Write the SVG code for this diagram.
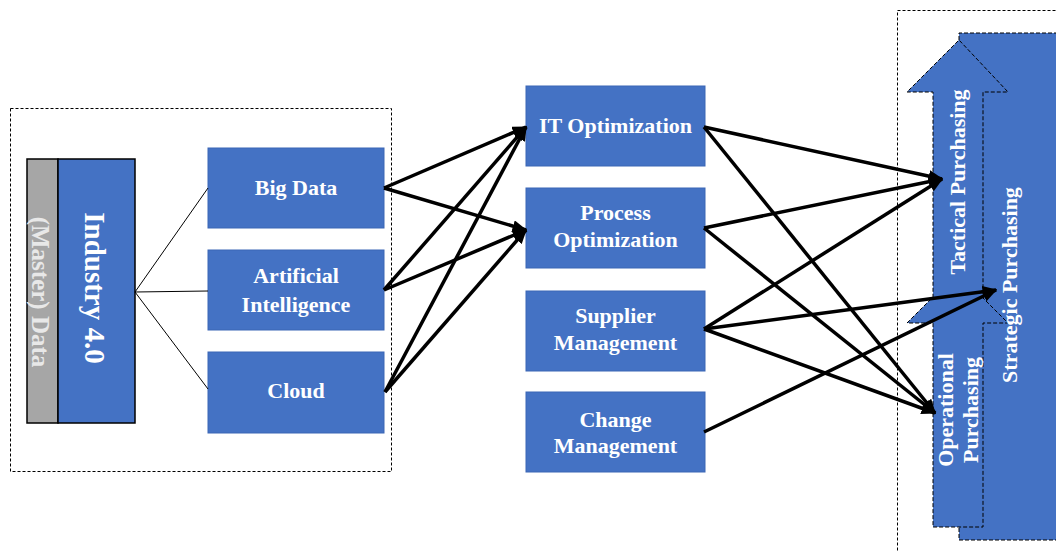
<svg xmlns="http://www.w3.org/2000/svg" width="1056" height="551" viewBox="0 0 1056 551">
<style>
.box{fill:#4472C4;stroke:#3b66b5;stroke-width:1}
.t{font-family:"Liberation Serif","Times New Roman",serif;font-weight:bold;font-size:22px;fill:#ffffff;text-anchor:middle}
.thin{stroke:#000;stroke-width:1;fill:none}
.thick{stroke:#000;stroke-width:3.5;fill:none;marker-end:url(#ah)}
.frame{fill:none;stroke:#000;stroke-width:1;stroke-dasharray:3 2}
.dash{fill:none;stroke:#000;stroke-width:1;stroke-dasharray:4 2}
</style>
<defs>
<marker id="ah" viewBox="0 0 10 8" refX="9" refY="4" markerWidth="15" markerHeight="12" markerUnits="userSpaceOnUse" orient="auto">
<path d="M0,0 L10,4 L0,8 z" fill="#000"/>
</marker>
</defs>
<rect width="1056" height="551" fill="#fff"/>

<!-- frames -->
<rect class="frame" x="10.5" y="108.5" width="381" height="363"/>
<rect class="frame" x="897.5" y="10.5" width="170" height="560"/>

<!-- Industry 4.0 -->
<g id="master-data">
<rect x="27" y="159" width="31" height="264" fill="#A6A6A6" stroke="#000" stroke-width="1.5"/>
<text transform="translate(32,292) rotate(90)" class="t" style="font-size:25px;fill:#e8e8e8">(Master) Data</text>
</g>
<g id="industry">
<rect x="58" y="159" width="77" height="264" fill="#4472C4" stroke="#000" stroke-width="1.5"/>
<text transform="translate(85,288) rotate(90)" class="t" style="font-size:29px">Industry 4.0</text>
</g>

<g id="big-data"><rect class="box" x="208" y="148" width="176" height="80"/><text class="t" x="296" y="195">Big Data</text></g>
<g id="ai"><rect class="box" x="208" y="250" width="176" height="80"/><text class="t" x="296" y="283">Artificial</text><text class="t" x="296" y="312">Intelligence</text></g>
<g id="cloud"><rect class="box" x="208" y="352" width="176" height="81"/><text class="t" x="296" y="398">Cloud</text></g>

<g id="it-opt"><rect class="box" x="526" y="86" width="179" height="80"/><text class="t" x="615.5" y="133">IT Optimization</text></g>
<g id="process-opt"><rect class="box" x="526" y="188" width="179" height="80"/><text class="t" x="615.5" y="220">Process</text><text class="t" x="615.5" y="247">Optimization</text></g>
<g id="supplier-mgmt"><rect class="box" x="526" y="291" width="179" height="80"/><text class="t" x="615.5" y="323">Supplier</text><text class="t" x="615.5" y="350">Management</text></g>
<g id="change-mgmt"><rect class="box" x="526" y="392" width="179" height="80"/><text class="t" x="615.5" y="427">Change</text><text class="t" x="615.5" y="453">Management</text></g>

<!-- purchasing arrows -->
<g id="strategic">
<rect x="959" y="33" width="110" height="507" fill="#4472C4"/>
<path class="dash" d="M1070,33 L959,33 L959,540 L1070,540"/>
</g>
<g id="operational-tactical">
<polygon points="958,272 1008,323 983,323 983,527 933,527 933,323 907,323" fill="#4472C4"/>
<polygon points="959,40 1008,92 983,92 983,300 933,300 933,92 907,92" fill="#4472C4"/>
<path class="dash" d="M907,323 L933,297 L933,92 L907,92 L959,40 L1008,92 L983,92 L983,298 L1008,323 L983,323 L983,527 L933,527 L933,323 Z"/>
</g>
<g id="labels-right">
<text class="t" transform="translate(965,182) rotate(-90)">Tactical Purchasing</text>
<text class="t" transform="translate(1017,285) rotate(-90)">Strategic Purchasing</text>
<text class="t" transform="translate(953,410) rotate(-90)">Operational</text>
<text class="t" transform="translate(978,410) rotate(-90)">Purchasing</text>
</g>

<g id="connectors">
<line class="thin" x1="135" y1="292" x2="208" y2="188"/>
<line class="thin" x1="135" y1="292" x2="208" y2="291"/>
<line class="thin" x1="135" y1="292" x2="208" y2="389"/>

<line class="thick" x1="384" y1="188" x2="526" y2="127"/>
<line class="thick" x1="384" y1="188" x2="526" y2="230"/>
<line class="thick" x1="384" y1="290" x2="526" y2="127"/>
<line class="thick" x1="384" y1="290" x2="526" y2="230"/>
<line class="thick" x1="385" y1="392" x2="526" y2="127"/>
<line class="thick" x1="385" y1="392" x2="526" y2="230"/>

<line class="thick" x1="704" y1="127" x2="942" y2="179"/>
<line class="thick" x1="704" y1="127" x2="935" y2="413"/>
<line class="thick" x1="704" y1="228" x2="942" y2="179"/>
<line class="thick" x1="704" y1="228" x2="935" y2="413"/>
<line class="thick" x1="704" y1="329" x2="942" y2="179"/>
<line class="thick" x1="704" y1="329" x2="996" y2="290"/>
<line class="thick" x1="704" y1="329" x2="935" y2="413"/>
<line class="thick" x1="704" y1="432" x2="996" y2="290"/>
</g>
</svg>
